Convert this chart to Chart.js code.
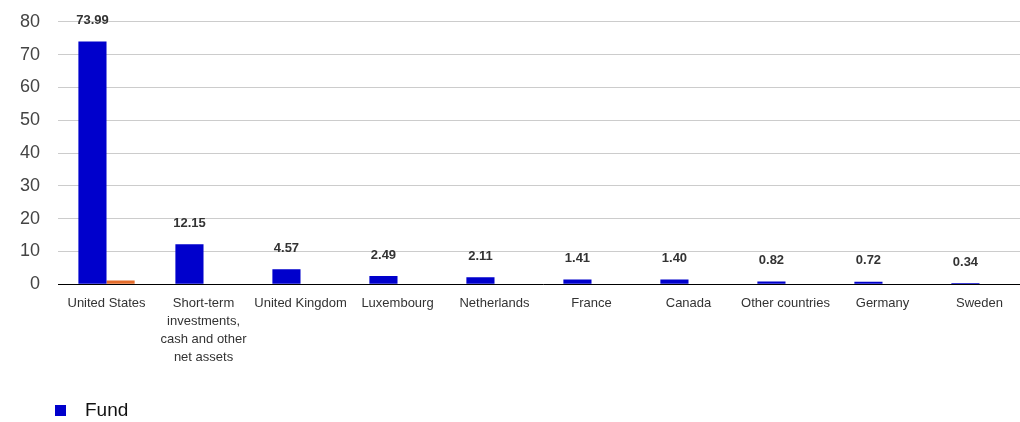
<!DOCTYPE html>
<html>
<head>
<meta charset="utf-8">
<script src="https://cdn.jsdelivr.net/npm/chart.js@4/dist/chart.umd.min.js"></script>
<style>
  body { margin: 0; background: #fff; }
  #wrap { position: relative; width: 1020px; height: 422px; overflow: hidden; }
  #chart-box { position: absolute; left: 0; top: -7px; width: 1028px; height: 429px; }
  #legend { position: absolute; left: 55px; top: 399px; font: 19px "Liberation Sans", Arial, sans-serif; color: #111; display: flex; align-items: center; }
  #legend .box { width: 11px; height: 11px; background: #0000cc; margin-right: 19px; }
</style>
</head>
<body>
<div id="wrap">
  <div id="chart-box"><canvas id="fundChart"></canvas></div>
  <div id="legend"><span class="box"></span><span>Fund</span></div>
</div>
<script>
const categories = [
  'United States',
  ['Short-term', 'investments,', 'cash and other', 'net assets'],
  'United Kingdom',
  'Luxembourg',
  'Netherlands',
  'France',
  'Canada',
  'Other countries',
  'Germany',
  'Sweden'
];
const fundValues = [73.99, 12.15, 4.57, 2.49, 2.11, 1.41, 1.40, 0.82, 0.72, 0.34];
const benchmarkValues = [1.1, 0, 0, 0, 0, 0, 0, 0, 0, 0];
const yTicks = [0, 10, 20, 30, 40, 50, 60, 70, 80];

const sans = '"Liberation Sans", Arial, sans-serif';

// value labels above the Fund bars
const valueLabels = {
  id: 'valueLabels',
  afterDatasetsDraw(chart) {
    const meta = chart.getDatasetMeta(0);
    const ctx = chart.ctx;
    ctx.save();
    ctx.font = 'bold 13px ' + sans;
    ctx.fillStyle = '#333';
    ctx.textAlign = 'center';
    ctx.textBaseline = 'middle';
    meta.data.forEach((bar, i) => {
      ctx.fillText(fundValues[i].toFixed(2), bar.x, bar.y - 21);
    });
    ctx.restore();
  }
};

new Chart(document.getElementById('fundChart'), {
  type: 'bar',
  data: {
    labels: categories,
    datasets: [
      {
        label: 'Fund',
        data: fundValues,
        backgroundColor: '#0000cc',
        barPercentage: 1,
        categoryPercentage: 0.58
      },
      {
        label: 'Benchmark',
        data: benchmarkValues,
        backgroundColor: '#e46c2b',
        barPercentage: 1,
        categoryPercentage: 0.58
      }
    ]
  },
  options: {
    responsive: true,
    maintainAspectRatio: false,
    animation: false,
    layout: { padding: { top: 0, bottom: 53, left: 2, right: 0 } },
    plugins: {
      legend: { display: false },
      tooltip: { enabled: false }
    },
    scales: {
      x: {
        grid: { display: false },
        border: { color: '#000', width: 1 },
        ticks: {
          color: '#333',
          font: { family: sans, size: 13, lineHeight: 1.4 },
          maxRotation: 0,
          autoSkip: false,
          padding: 2
        }
      },
      y: {
        min: 0,
        max: 80,
        afterBuildTicks: (axis) => { axis.ticks = yTicks.map(v => ({ value: v })); },
        grid: { color: '#ccc', drawTicks: false },
        border: { display: false },
        ticks: {
          color: '#444',
          font: { family: sans, size: 18 },
          padding: 18
        }
      }
    }
  },
  plugins: [valueLabels]
});
</script>
</body>
</html>
